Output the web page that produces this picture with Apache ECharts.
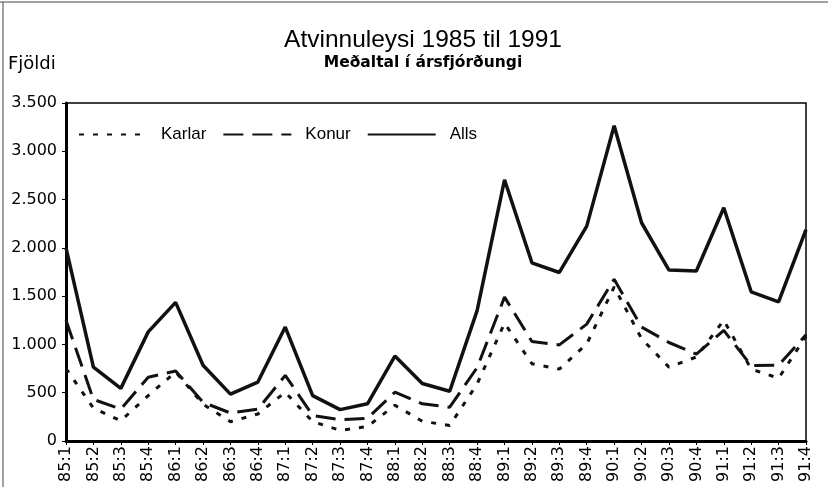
<!DOCTYPE html>
<html>
<head>
<meta charset="utf-8">
<title>Atvinnuleysi 1985 til 1991</title>
<script src="https://cdn.jsdelivr.net/npm/echarts@6/dist/echarts.min.js"></script>
<style>
  html, body { margin: 0; padding: 0; background: #fff; }
  #chart { width: 828px; height: 491px; }
</style>
</head>
<body>
<div id="chart"></div>
<script>
// ársfjórðungar
var quarters = ['85:1', '85:2', '85:3', '85:4', '86:1', '86:2', '86:3', '86:4',
  '87:1', '87:2', '87:3', '87:4', '88:1', '88:2', '88:3', '88:4',
  '89:1', '89:2', '89:3', '89:4', '90:1', '90:2', '90:3', '90:4',
  '91:1', '91:2', '91:3', '91:4'];

var karlar = [750, 340, 210, 470, 715, 380, 200, 280, 505, 200, 110, 150,
  370, 205, 160, 590, 1220, 800, 745, 1005, 1595, 1060, 765, 870,
  1250, 745, 650, 1085];

var konur = [1250, 430, 330, 660, 725, 400, 290, 330, 680, 265, 220, 235,
  505, 385, 350, 760, 1490, 1030, 995, 1210, 1675, 1180, 1020, 900,
  1145, 780, 785, 1100];

var alls = [2000, 765, 545, 1130, 1435, 785, 485, 610, 1180, 470, 325, 385,
  880, 595, 515, 1350, 2705, 1845, 1745, 2225, 3265, 2260, 1770, 1760,
  2415, 1545, 1440, 2190];

var yTicks = [0, 500, 1000, 1500, 2000, 2500, 3000, 3500];

var FONT = '"Liberation Sans", Arial, sans-serif';
var WIDE = '"DejaVu Sans", sans-serif';

function fmt(v) {
  // þúsundaskil með punkti
  return String(v).replace(/\B(?=(\d{3})+(?!\d))/g, '.');
}

var chart = echarts.init(document.getElementById('chart'));

chart.setOption({
  backgroundColor: '#fff',
  animation: false,
  textStyle: { fontFamily: FONT, color: '#000' },
  graphic: [
    { type: 'line', shape: { x1: 0, y1: 2, x2: 828, y2: 2 }, style: { stroke: '#444', lineWidth: 1 } },
    { type: 'line', shape: { x1: 3, y1: 2, x2: 3, y2: 487 }, style: { stroke: '#444', lineWidth: 1 } },
    { type: 'text', x: 423, y: 28, style: { text: 'Atvinnuleysi 1985 til 1991', fontFamily: FONT, fontSize: 24.5, fill: '#000', textAlign: 'center' } },
    { type: 'text', x: 423, y: 55, style: { text: 'Meðaltal í ársfjórðungi', fontFamily: WIDE, fontSize: 15.5, fontWeight: 'bold', fill: '#000', textAlign: 'center' } },
    { type: 'text', x: 8, y: 55, style: { text: 'Fjöldi', fontFamily: WIDE, fontSize: 18, fill: '#000' } }
  ],
  legend: {
    left: 78,
    top: 126,
    itemWidth: 68,
    itemHeight: 14,
    itemGap: 16,
    padding: 0,
    itemStyle: { opacity: 0 },
    textStyle: { fontFamily: FONT, fontSize: 17, color: '#000', padding: [0, 0, 0, 9] },
    data: ['Karlar', 'Konur', 'Alls']
  },
  grid: {
    left: 66,
    right: 22,
    top: 103,
    bottom: 50,
    show: true,
    borderColor: '#000',
    borderWidth: 1.5
  },
  xAxis: {
    type: 'category',
    data: quarters,
    boundaryGap: false,
    axisLine: { lineStyle: { color: '#000', width: 3 } },
    axisTick: { length: 4, lineStyle: { color: '#000', width: 1 } },
    axisLabel: { interval: 0, rotate: 90, fontSize: 16, color: '#000', margin: 5, fontFamily: WIDE }
  },
  yAxis: {
    type: 'value',
    min: yTicks[0],
    max: yTicks[yTicks.length - 1],
    interval: 500,
    splitLine: { show: false },
    axisLine: { show: true, lineStyle: { color: '#000', width: 3 } },
    axisTick: { show: true, length: 4, lineStyle: { color: '#000', width: 1 } },
    axisLabel: { fontSize: 16, color: '#000', margin: 9, fontFamily: WIDE, formatter: fmt }
  },
  series: [
    {
      name: 'Karlar',
      type: 'line',
      data: karlar,
      symbol: 'none',
      color: '#000',
      lineStyle: { color: '#111', width: 3, type: [5, 9] }
    },
    {
      name: 'Konur',
      type: 'line',
      data: konur,
      symbol: 'none',
      color: '#000',
      lineStyle: { color: '#111', width: 3, type: [20, 9] }
    },
    {
      name: 'Alls',
      type: 'line',
      data: alls,
      symbol: 'none',
      color: '#000',
      lineStyle: { color: '#111', width: 3.5 }
    }
  ]
});
</script>
</body>
</html>
